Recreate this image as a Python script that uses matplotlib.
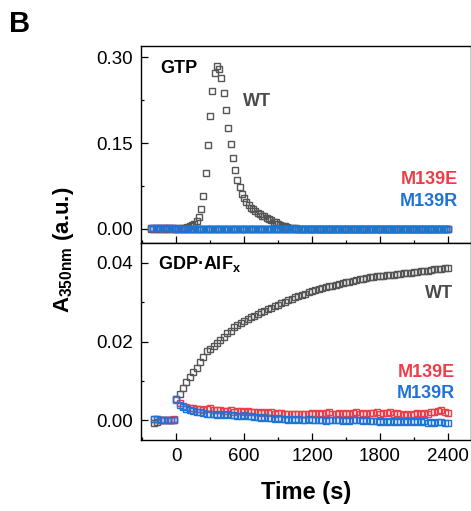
import matplotlib
matplotlib.use('Agg')
import matplotlib.pyplot as plt
import numpy as np
from matplotlib.ticker import MultipleLocator, FormatStrFormatter

plt.rcParams['font.family'] = ['Liberation Sans', 'DejaVu Sans']
plt.rcParams['mathtext.fontset'] = 'custom'
plt.rcParams['mathtext.rm'] = 'Liberation Sans'
plt.rcParams['mathtext.bf'] = 'Liberation Sans:bold'
plt.rcParams['mathtext.it'] = 'Liberation Sans:italic'

# ---------------- data ----------------
# GTP panel, sampled every 20 s starting at -220 s
gtp_wt = [
    0.0, 0.0, 0.0, 0.0, 0.0, 0.0, 0.0, 0.0, 0.0, 0.0, 0.0,
    0.000, 0.001, 0.001, 0.002, 0.002, 0.003, 0.004, 0.006, 0.009, 0.013,
    0.020, 0.035, 0.058, 0.097, 0.147, 0.197, 0.241, 0.272, 0.285, 0.280,
    0.264, 0.237, 0.207, 0.177, 0.148, 0.124, 0.103, 0.086, 0.073, 0.061,
    0.054, 0.047, 0.042, 0.037, 0.034, 0.031, 0.028, 0.026, 0.023, 0.022,
    0.019, 0.017, 0.015, 0.012, 0.011, 0.009, 0.007, 0.005, 0.004, 0.003,
    0.002, 0.002, 0.001, 0.001, 0.000,
    0.0, 0.0, 0.0, 0.0, 0.0, 0.0, 0.0, 0.0, 0.0, 0.0, 0.0, 0.0, 0.0, 0.0, 0.0, 0.0, 0.0, 0.0, 0.0, 0.0,
    0.0, 0.0, 0.0, 0.0, 0.0, 0.0, 0.0, 0.0, 0.0, 0.0, 0.0, 0.0, 0.0, 0.0, 0.0, 0.0, 0.0, 0.0, 0.0, 0.0,
    0.0, 0.0, 0.0, 0.0, 0.0, 0.0, 0.0, 0.0, 0.0, 0.0, 0.0, 0.0, 0.0, 0.0, 0.0, 0.0, 0.0, 0.0, 0.0, 0.0,
    0.0, 0.0, 0.0, 0.0, 0.0, 0.0,
]
gtp_m139e = [
    0.001, 0.001, 0.001, 0.001, 0.001, 0.001, 0.001, 0.001, 0.001, 0.001, 0.001,
    0.0, 0.0, 0.0, 0.0, 0.0, 0.0, 0.0, 0.0, 0.0, 0.0, 0.0, 0.0, 0.0, 0.0, 0.0, 0.0, 0.0, 0.0, 0.0, 0.0,
    0.0, 0.0, 0.0, 0.0, 0.0, 0.0, 0.0, 0.0, 0.0, 0.0, 0.0, 0.0, 0.0, 0.0, 0.0, 0.0, 0.0, 0.0, 0.0, 0.0,
    0.0, 0.0, 0.0, 0.0, 0.0, 0.0, 0.0, 0.0, 0.0, 0.0, 0.0, 0.0, 0.0, 0.0, 0.0, 0.0, 0.0, 0.0, 0.0, 0.0,
    0.0, 0.0, 0.0, 0.0, 0.0, 0.0, 0.0, 0.0, 0.0, 0.0, 0.0, 0.0, 0.0, 0.0, 0.0, 0.0, 0.0, 0.0, 0.0, 0.0,
    0.0, 0.0, 0.0, 0.0, 0.0, 0.0, 0.0, 0.0, 0.0, 0.0, 0.0, 0.0, 0.0, 0.0, 0.0, 0.0, 0.0, 0.0, 0.0, 0.0,
    0.0, 0.0, 0.0, 0.0, 0.0, 0.0, 0.0, 0.0, 0.0, 0.0, 0.0, 0.0, 0.0, 0.0, 0.0, 0.0, 0.0, 0.0, 0.0, 0.0,
    0.0,
]
gtp_m139r = [
    0.002, 0.002, 0.002, 0.002, 0.002, 0.002, 0.002, 0.002, 0.002, 0.002, 0.002,
    0.0, 0.0, 0.0, 0.0, 0.0, 0.0, 0.0, 0.0, 0.0, 0.0, 0.0, 0.0, 0.0, 0.0, 0.0, 0.0, 0.0, 0.0, 0.0, 0.0,
    0.0, 0.0, 0.0, 0.0, 0.0, 0.0, 0.0, 0.0, 0.0, 0.0, 0.0, 0.0, 0.0, 0.0, 0.0, 0.0, 0.0, 0.0, 0.0, 0.0,
    0.0, 0.0, 0.0, 0.0, 0.0, 0.0, 0.0, 0.0, 0.0, 0.0, 0.0, 0.0, 0.0, 0.0, 0.0, 0.0, 0.0, 0.0, 0.0, 0.0,
    0.0, 0.0, 0.0, 0.0, 0.0, 0.0, 0.0, 0.0, 0.0, 0.0, 0.0, 0.0, 0.0, 0.0, 0.0, 0.0, 0.0, 0.0, 0.0, 0.0,
    0.0, 0.0, 0.0, 0.0, 0.0, 0.0, 0.0, 0.0, 0.0, 0.0, 0.0, 0.0, 0.0, 0.0, 0.0, 0.0, 0.0, 0.0, 0.0, 0.0,
    0.0, 0.0, 0.0, 0.0, 0.0, 0.0, 0.0, 0.0, 0.0, 0.0, 0.0, 0.0, 0.0, 0.0, 0.0, 0.0, 0.0, 0.0, 0.0, 0.0,
    0.0,
]
gtp_time = -220 + 20 * np.arange(len(gtp_wt))

# GDP-AlFx panel: 7 pre-injection points, then every 30 s from 0 to 2400 s
alf_time_pre = [-195, -165, -135, -105, -75, -45, -15]
alf_time_post = list(range(0, 2401, 30))
alf_time = np.array(alf_time_pre + alf_time_post)

alf_wt = [
    -0.0008, -0.0004, 0.0001, 0.0001, 0.0001, 0.0001, 0.0001,
    0.0054, 0.0068, 0.0083, 0.0098, 0.0110, 0.0122, 0.0134, 0.0148, 0.0162, 0.0176,
    0.0180, 0.0188, 0.0196, 0.0203, 0.0212, 0.0221, 0.0228, 0.0236, 0.0242, 0.0247,
    0.0253, 0.0258, 0.0262, 0.0266, 0.0270, 0.0274, 0.0278, 0.0282, 0.0286, 0.0290,
    0.0294, 0.0297, 0.0301, 0.0305, 0.0308, 0.0312, 0.0315, 0.0318, 0.0321, 0.0325,
    0.0328, 0.0330, 0.0333, 0.0335, 0.0338, 0.0340, 0.0342, 0.0344, 0.0346, 0.0349,
    0.0350, 0.0351, 0.0353, 0.0356, 0.0358, 0.0360, 0.0362, 0.0365, 0.0364, 0.0366,
    0.0367, 0.0367, 0.0369, 0.0370, 0.0370, 0.0371, 0.0372, 0.0373, 0.0374, 0.0375,
    0.0376, 0.0377, 0.0379, 0.0379, 0.0380, 0.0382, 0.0383, 0.0384, 0.0385, 0.0386,
    0.0387,
]
alf_m139e = [
    0.0004, 0.0004, 0.0002, 0.0002, 0.0002, 0.0002, 0.0003,
    0.0052, 0.0043, 0.0036, 0.0033, 0.0031, 0.0030, 0.0028, 0.0029, 0.0027, 0.0028,
    0.0030, 0.0026, 0.0025, 0.0027, 0.0024, 0.0023, 0.0025, 0.0022, 0.0024, 0.0023,
    0.0021, 0.0024, 0.0022, 0.0020, 0.0022, 0.0019, 0.0021, 0.0018, 0.0020, 0.0017,
    0.0019, 0.0018, 0.0016, 0.0017, 0.0015, 0.0017, 0.0016, 0.0015, 0.0017, 0.0016,
    0.0018, 0.0017, 0.0019, 0.0016, 0.0018, 0.0020, 0.0017, 0.0016, 0.0018, 0.0017,
    0.0019, 0.0016, 0.0018, 0.0021, 0.0017, 0.0018, 0.0016, 0.0019, 0.0018, 0.0021,
    0.0017, 0.0019, 0.0018, 0.0021, 0.0016, 0.0018, 0.0017, 0.0014, 0.0016, 0.0013,
    0.0015, 0.0018, 0.0016, 0.0019, 0.0017, 0.0022, 0.0020, 0.0023, 0.0026, 0.0022,
    0.0018,
]
alf_m139r = [
    0.0003, 0.0003, 0.0002, 0.0002, 0.0002, 0.0002, 0.0002,
    0.0055, 0.0038, 0.0033, 0.0029, 0.0026, 0.0024, 0.0021, 0.0020, 0.0018, 0.0017,
    0.0015, 0.0016, 0.0014, 0.0015, 0.0014, 0.0015, 0.0013, 0.0014, 0.0012, 0.0011,
    0.0013, 0.0010, 0.0011, 0.0008, 0.0009, 0.0007, 0.0008, 0.0005, 0.0006, 0.0004,
    0.0005, 0.0003, 0.0004, 0.0002, 0.0003, 0.0001, 0.0003, 0.0002, 0.0001, 0.0003,
    0.0002, 0.0000, 0.0002, 0.0001, -0.0001, 0.0001, 0.0000, 0.0002, 0.0000, -0.0001,
    0.0001, -0.0002, 0.0000, 0.0002, 0.0000, -0.0001, 0.0001, -0.0002, -0.0003, -0.0001,
    -0.0004, -0.0002, -0.0005, -0.0003, -0.0004, -0.0003, -0.0005, -0.0003, -0.0004, -0.0002,
    -0.0005, -0.0003, -0.0004, -0.0003, -0.0006, -0.0004, -0.0007, -0.0004, -0.0005, -0.0006,
    -0.0008,
]

x_major = [0, 600, 1200, 1800, 2400]
series_names = ['WT', 'M139E', 'M139R']
colors = {'WT': '#555555', 'M139E': '#EE3D48', 'M139R': '#1E74D6'}
text_colors = {'WT': '#4a4a4a', 'M139E': '#EE3D48', 'M139R': '#1E74D6'}

# ---------------- figure ----------------
W_PX, H_PX = 471, 511
fig = plt.figure(figsize=(W_PX / 100, H_PX / 100), dpi=100)
left = 141 / W_PX
width = 329.7 / W_PX
ax1 = fig.add_axes([left, 1 - 242.7 / H_PX, width, 197 / H_PX])
ax2 = fig.add_axes([left, 1 - 440 / H_PX, width, 197.3 / H_PX])

mk = dict(ls='none', marker='s', ms=4.0, mfc='none', mew=1.0)

for name, vals in zip(series_names, [gtp_wt, gtp_m139e, gtp_m139r]):
    ax1.plot(gtp_time, vals, mec=colors[name], **mk)
for name, vals in zip(series_names, [alf_wt, alf_m139e, alf_m139r]):
    ax2.plot(alf_time, vals, mec=colors[name], **mk)

for ax in (ax1, ax2):
    ax.set_xlim(-310, 2600)
    ax.set_xticks(x_major)
    ax.xaxis.set_minor_locator(MultipleLocator(300))
    for sp in ax.spines.values():
        sp.set_linewidth(1.0)
    ax.tick_params(which='both', direction='in', top=False, right=False,
                   width=0.9, labelsize=13.5, pad=6)
    ax.tick_params(which='major', length=5)
    ax.tick_params(which='minor', length=2.5)

ax1.set_ylim(-0.0245, 0.3203)
ax1.set_yticks([0.0, 0.15, 0.30])
ax1.yaxis.set_minor_locator(MultipleLocator(0.075))
ax1.yaxis.set_major_formatter(FormatStrFormatter('%.2f'))
ax1.tick_params(labelbottom=False)

ax2.set_ylim(-0.0050, 0.0451)
ax2.set_yticks([0.0, 0.02, 0.04])
ax2.yaxis.set_minor_locator(MultipleLocator(0.01))
ax2.yaxis.set_major_formatter(FormatStrFormatter('%.2f'))

# annotations
fs = 13
ax1.text(0.0576, 0.860, 'GTP', transform=ax1.transAxes, fontsize=fs,
         fontweight='bold', ha='left', va='baseline')
ax1.text(0.309, 0.6954, 'WT', transform=ax1.transAxes, fontsize=fs,
         fontweight='bold', color=text_colors['WT'], ha='left', va='baseline')
ax1.text(0.9615, 0.298, 'M139E', transform=ax1.transAxes, fontsize=fs,
         fontweight='bold', color=text_colors['M139E'], ha='right', va='baseline')
ax1.text(0.9615, 0.1863, 'M139R', transform=ax1.transAxes, fontsize=fs,
         fontweight='bold', color=text_colors['M139R'], ha='right', va='baseline')

ax2.text(0.0516, 0.865, r'GDP·AlF$_{\mathbf{x}}$', transform=ax2.transAxes,
         fontsize=fs, fontweight='bold', ha='left', va='baseline')
ax2.text(0.946, 0.718, 'WT', transform=ax2.transAxes, fontsize=fs,
         fontweight='bold', color=text_colors['WT'], ha='right', va='baseline')
ax2.text(0.952, 0.3193, 'M139E', transform=ax2.transAxes, fontsize=fs,
         fontweight='bold', color=text_colors['M139E'], ha='right', va='baseline')
ax2.text(0.952, 0.2113, 'M139R', transform=ax2.transAxes, fontsize=fs,
         fontweight='bold', color=text_colors['M139R'], ha='right', va='baseline')

fig.text(63 / W_PX, 1 - 250 / H_PX, r'$\mathbf{A_{350nm}}$ (a.u.)', rotation=90,
         ha='center', va='center', fontsize=16, fontweight='bold')
fig.text(306 / W_PX, 1 - 492 / H_PX, 'Time (s)', ha='center', va='center',
         fontsize=17, fontweight='bold')
fig.text(9 / W_PX, 1 - 32 / H_PX, 'B', ha='left', va='baseline',
         fontsize=21, fontweight='bold')

fig.savefig('out.png', dpi=100)
